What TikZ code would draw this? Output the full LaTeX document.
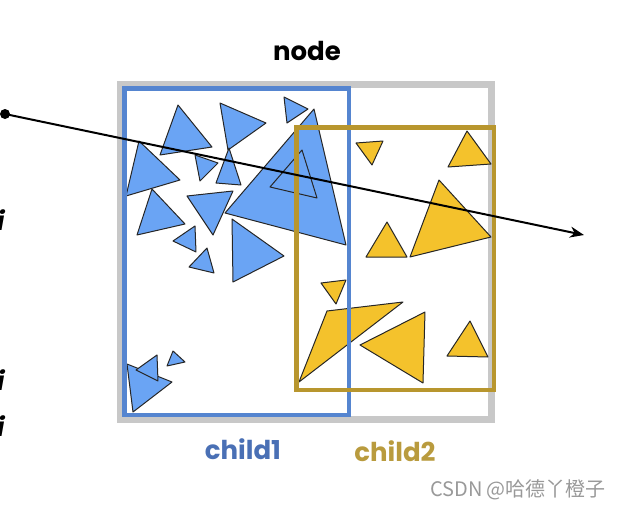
\documentclass[tikz,border=0pt]{standalone}
\usepackage{fontspec}
\setmainfont{Poppins}
\newfontfamily\cjkfont{Noto Sans CJK SC}
\usetikzlibrary{arrows.meta}

\definecolor{triblue}{HTML}{6AA4F4}
\definecolor{boxblue}{HTML}{5585D0}
\definecolor{labblue}{HTML}{4A70B5}
\definecolor{triyellow}{HTML}{F4C22C}
\definecolor{boxgold}{HTML}{B8962E}
\definecolor{labgold}{HTML}{B99B3E}
\definecolor{boxgray}{HTML}{C8C8C8}

\begin{document}
\begin{tikzpicture}[x=0.5pt, y=-0.5pt, >={Stealth[length=7pt,width=5.5pt]}, btri/.style={fill=triblue, draw=black!85, line width=0.5pt, line join=round}, ytri/.style={fill=triyellow, draw=black!85, line width=0.5pt, line join=round}, boxlabel/.style={font=\bfseries\fontsize{13}{15}\selectfont, inner sep=0pt}, sidemark/.style={anchor=base east, inner sep=0pt, font=\bfseries\itshape\fontsize{13}{15}\selectfont}]

\useasboundingbox (0,0) rectangle (618,509);

% node box
\draw[boxgray, line width=3.5pt] (121,84) rectangle (492,419);

% child1 primitives
\draw[btri] (314,109) -- (346,245) -- (225,213) -- cycle;
\draw[btri] (302,150) -- (317,198) -- (270,187) -- cycle;
\draw[btri] (178,105) -- (212,147) -- (160,155) -- cycle;
\draw[btri] (220,103) -- (266,123) -- (228,150) -- cycle;
\draw[btri] (284,97) -- (308,109) -- (287,123) -- cycle;
\draw[btri] (139,141) -- (180,180) -- (126,196) -- cycle;
\draw[btri] (195,155) -- (218,163) -- (200,181) -- cycle;
\draw[btri] (229,148) -- (241,185) -- (216,183) -- cycle;
\draw[btri] (187,196) -- (233,191) -- (213,235) -- cycle;
\draw[btri] (152,189) -- (185,224) -- (137,235) -- cycle;
\draw[btri] (195,226) -- (196,252) -- (173,241) -- cycle;
\draw[btri] (207,248) -- (214,273) -- (189,267) -- cycle;
\draw[btri] (232,219) -- (284,256) -- (233,282) -- cycle;
\draw[btri] (127,364) -- (172,382) -- (133,412) -- cycle;
\draw[btri] (136,370) -- (157,355) -- (158,381) -- cycle;
\draw[btri] (173,351) -- (185,362) -- (167,366) -- cycle;

% child2 primitives
\draw[ytri] (356,143) -- (383,141) -- (372,165) -- cycle;
\draw[ytri] (467,131) -- (491,164) -- (448,167) -- cycle;
\draw[ytri] (387,222) -- (407,257) -- (366,257) -- cycle;
\draw[ytri] (439,180) -- (491,237) -- (410,257) -- cycle;
\draw[ytri] (321,283) -- (346,280) -- (336,304) -- cycle;
\draw[ytri] (327,311) -- (403,302) -- (299,382) -- cycle;
\draw[ytri] (425,312) -- (423,383) -- (360,345) -- cycle;
\draw[ytri] (470,321) -- (488,357) -- (447,356) -- cycle;

% child boxes
\draw[boxblue, line width=2.25pt] (124.5,88.5) rectangle (349,415);
\draw[boxgold, line width=2.25pt] (296.5,127.5) rectangle (494,390);

\node[boxlabel] (nodetitle) at (307,51) {node};
\node[boxlabel, text=labblue] (child1) at (243,449) {child1};
\node[boxlabel, text=labgold] (child2) at (395,451) {child2};
\node[inner sep=0pt, text=black!40, font=\cjkfont\fontsize{10}{12}\selectfont] (mark) at (518,490) {CSDN @哈德丫橙子};

\node[sidemark] (i1) at (5,230) {i};
\node[sidemark] (i2) at (5,390) {i};
\node[sidemark] (i3) at (5,436) {i};

% ray
\coordinate (src) at (5,114);
\coordinate (dst) at (584,235);
\fill (src) circle (2.5pt);
\draw[->, line width=1pt] (src) -- (dst);
\end{tikzpicture}
\end{document}
